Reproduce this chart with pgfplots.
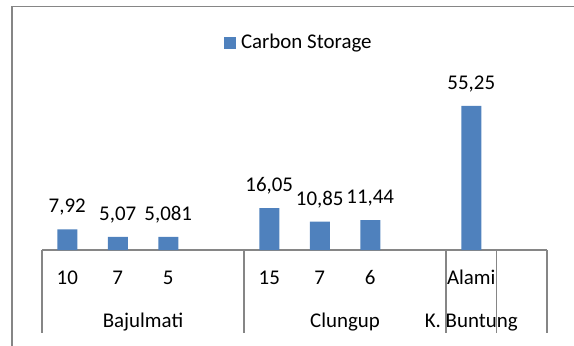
\documentclass[border=0pt]{standalone}
\usepackage{fontspec}
\setmainfont{Carlito}
\usepackage{pgfplots}
\pgfplotsset{compat=1.18}
\usepackage{pgfplotstable}

\definecolor{barblue}{RGB}{79,129,189}
\definecolor{rulegray}{RGB}{134,134,134}

% carbon storage per site and stand age
\pgfplotstableread{
x y label
0 7.92 {7,92}
1 5.07 {5,07}
2 5.081 {5,081}
4 16.05 {16,05}
5 10.85 {10,85}
6 11.44 {11,44}
8 55.25 {55,25}
}\carbon

\begin{document}
\fontsize{21}{25}\selectfont%
\begin{tikzpicture}[x=1bp,y=1bp]
\useasboundingbox (0,0) rectangle (574,345);
% chart frame
\draw[rulegray, line width=1.8bp] (12,-2) -- (12,338.5) -- (578,338.5);
\begin{axis}[
  at={(42bp,95bp)}, anchor=south west,
  scale only axis, width=505bp, height=190bp,
  xmin=-0.5, xmax=9.5, ymin=0, ymax=72.9,
  axis x line=bottom, axis y line=none,
  x axis line style={-, draw=rulegray, line width=1.8bp},
  xtick=\empty, ytick=\empty,
  clip=false,
  ybar, bar width=20bp,
  nodes near coords, point meta=explicit symbolic,
  nodes near coords style={anchor=base, yshift=16.5bp, inner sep=0pt},
  legend style={at={(0.3604,1.0895)}, anchor=west, draw=none, fill=none,
    inner sep=0pt, outer sep=0pt},
  legend image code/.code={\fill[barblue] (0bp,-6bp) rectangle (12bp,6bp);
    \path (15bp,0bp);},
]
\addplot[fill=barblue, draw=none] table[x=x, y=y, meta=label]{\carbon};
\addlegendentry{Carbon Storage}

% inner category labels
\node[anchor=base] at ([yshift=-34bp]axis cs:0,0) {10};
\node[anchor=base] at ([yshift=-34bp]axis cs:1,0) {7};
\node[anchor=base] at ([yshift=-34bp]axis cs:2,0) {5};
\node[anchor=base] at ([yshift=-34bp]axis cs:4,0) {15};
\node[anchor=base] at ([yshift=-34bp]axis cs:5,0) {7};
\node[anchor=base] at ([yshift=-34bp]axis cs:6,0) {6};
\node[anchor=base] at ([yshift=-34bp]axis cs:8,0) {Alami};
% outer group labels
\node[anchor=base] at ([yshift=-77bp]axis cs:1.5,0) {Bajulmati};
\node[anchor=base] at ([yshift=-77bp]axis cs:5.5,0) {Clungup};
\node[anchor=base] at ([yshift=-77bp]axis cs:8,0) {K. Buntung};
% group dividers
\draw[rulegray, line width=1.8bp] (axis cs:-0.5,0) -- ([yshift=-83bp]axis cs:-0.5,0);
\draw[rulegray, line width=1.8bp] (axis cs:3.5,0) -- ([yshift=-83bp]axis cs:3.5,0);
\draw[rulegray, line width=1.8bp] (axis cs:7.5,0) -- ([yshift=-83bp]axis cs:7.5,0);
\draw[rulegray, line width=1.8bp] (axis cs:8.5,0) -- ([yshift=-83bp]axis cs:8.5,0);
\draw[rulegray, line width=1.8bp] (axis cs:9.5,0) -- ([yshift=-83bp]axis cs:9.5,0);
\end{axis}
\end{tikzpicture}
\end{document}
